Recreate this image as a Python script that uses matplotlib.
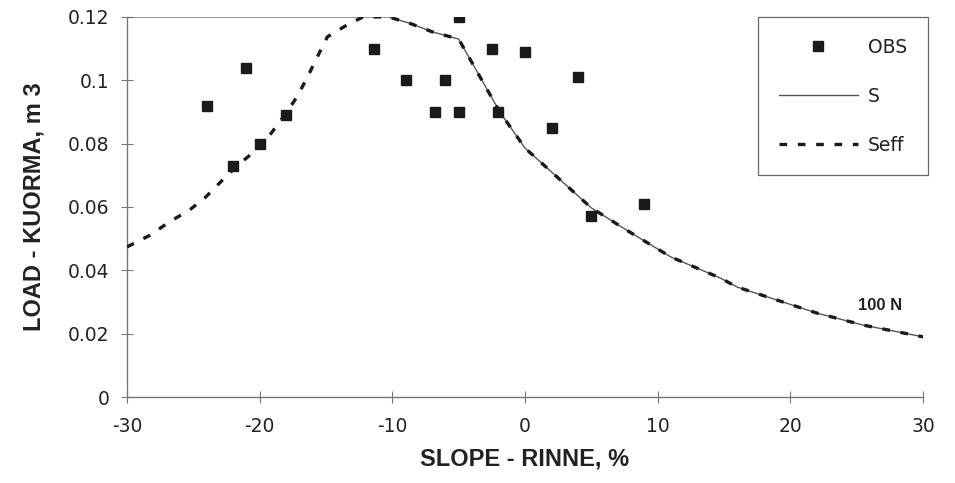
import matplotlib
matplotlib.use("Agg")
import matplotlib.pyplot as plt

obs_x = [-24, -22, -21, -20, -18, -11.4, -9, -6.8, -6, -5, -5, -2.5, -2, 0, 2, 4, 5, 9]
obs_y = [0.092, 0.073, 0.104, 0.080, 0.089, 0.110, 0.100, 0.090, 0.100, 0.090, 0.120,
         0.110, 0.090, 0.109, 0.085, 0.101, 0.057, 0.061]

s_x = [-30, -10.3, -8.7, -7, -5, -1.9, 0, 5, 8, 11, 14.7, 16, 19, 22, 25.5, 30]
s_y = [0.12, 0.12, 0.118, 0.1153, 0.113, 0.090, 0.0786, 0.0597, 0.0518, 0.0442,
       0.0376, 0.0347, 0.0306, 0.0265, 0.0227, 0.019]

seff_x = [-30, -28.3, -26.8, -25.3, -24.1, -22.8, -21.7, -19.8, -18.1, -17.2, -16.4,
          -15.7, -14.9, -13.4, -12.2, -10.3, -8.7, -7, -5, -1.9, 0, 5, 8, 11, 14.7,
          16, 19, 22, 25.5, 30]
seff_y = [0.0474, 0.051, 0.0553, 0.059, 0.063, 0.0685, 0.073, 0.0796, 0.089, 0.0947,
          0.101, 0.107, 0.1137, 0.1175, 0.12, 0.12, 0.118, 0.1153, 0.113, 0.090,
          0.0786, 0.0597, 0.0518, 0.0442, 0.0376, 0.0347, 0.0306, 0.0265, 0.0227, 0.019]

x_ticks = [-30, -20, -10, 0, 10, 20, 30]
x_tick_labels = ["-30", "-20", "-10", "0", "10", "20", "30"]
y_ticks = [0, 0.02, 0.04, 0.06, 0.08, 0.1, 0.12]
y_tick_labels = ["0", "0.02", "0.04", "0.06", "0.08", "0.1", "0.12"]

sans = ["Liberation Sans", "DejaVu Sans"]
wide = ["DejaVu Sans"]
narrow = ["Liberation Sans Narrow", "Liberation Sans", "DejaVu Sans"]

fig = plt.figure(figsize=(9.55, 4.83), dpi=100)
ax = fig.add_axes([0.133, 0.178, 0.8335, 0.787])

ax.plot(s_x, s_y, color="#555555", lw=1.0, label="S", zorder=2)
ax.plot(seff_x, seff_y, color="#1a1a1a", lw=2.4, dashes=(2.3, 3.2), label="Seff", zorder=3)
ax.plot(obs_x, obs_y, ls="none", marker="s", ms=7, color="#1a1a1a", label="OBS", zorder=4)

ax.set_xlim(-30, 30)
ax.set_ylim(0, 0.12)
for side in ("top", "right"):
    ax.spines[side].set_visible(False)
for side in ("left", "bottom"):
    ax.spines[side].set_color("#777777")
    ax.spines[side].set_linewidth(1.0)

ax.set_xticks(x_ticks)
ax.set_xticklabels(x_tick_labels)
ax.set_yticks(y_ticks)
ax.set_yticklabels(y_tick_labels)
ax.tick_params(axis="both", direction="inout", length=9, width=0.8, color="#777777")
ax.tick_params(axis="y", pad=8)
ax.tick_params(axis="x", pad=10)
for lab in ax.get_yticklabels() + ax.get_xticklabels():
    lab.set_fontfamily(wide)
    lab.set_fontsize(13.5)
    lab.set_color("#222222")

ax.set_xlabel("SLOPE - RINNE, %", fontfamily=narrow, fontweight="bold", fontsize=17,
              color="#222222", labelpad=8)
ax.set_ylabel("LOAD - KUORMA, m 3", fontfamily=sans, fontweight="bold", fontsize=17,
              color="#222222", labelpad=16)

ax.text(26.8, 0.0288, "100 N", fontfamily=sans, fontweight="bold", fontsize=12,
        ha="center", va="center", color="#222222")

handles, labels = ax.get_legend_handles_labels()
order = [2, 0, 1]
leg = ax.legend([handles[i] for i in order], [labels[i] for i in order],
                loc="upper right", bbox_to_anchor=(1.006, 1.0), frameon=True,
                fancybox=False, shadow=False, numpoints=1, handlelength=4.2,
                labelspacing=1.6, borderpad=1.1, handletextpad=0.55,
                prop={"family": wide, "size": 13.5}, borderaxespad=0)
leg.get_frame().set_edgecolor("#444444")
leg.get_frame().set_linewidth(0.9)
for t in leg.get_texts():
    t.set_color("#222222")

fig.savefig("out.png", dpi=100, facecolor="white")
